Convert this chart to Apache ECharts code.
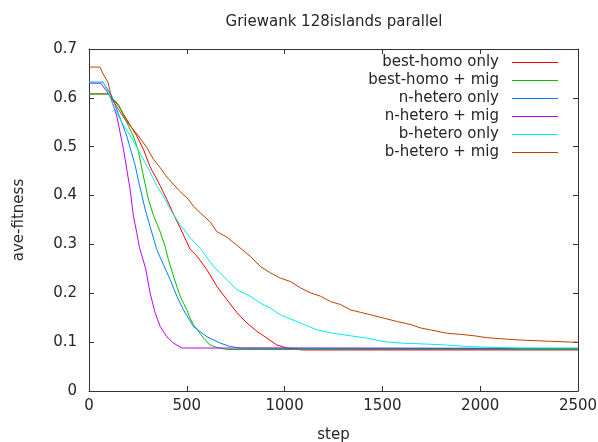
<!DOCTYPE html>
<html lang="en">
<head>
    <meta charset="UTF-8">
    <title>Griewank 128islands parallel</title>
    <script src="https://cdn.jsdelivr.net/npm/echarts@6/dist/echarts.min.js"></script>
    <style>
        html, body { margin: 0; padding: 0; background: #fff; }
        #chartmain { width: 598px; height: 442px; }
    </style>
</head>
<body>
<div id="chartmain"></div>
<script>
    // [step, ave-fitness]
    var bestHomoOnly = [[0,0.608],[97,0.608],[150,0.584],[244,0.522],[278,0.495],[312,0.459],[338,0.440],[364,0.420],
        [398,0.392],[432,0.362],[466,0.334],[500,0.305],[517,0.290],[552,0.276],[603,0.248],[654,0.214],[705,0.187],
        [757,0.160],[808,0.139],[859,0.122],[910,0.108],[961,0.094],[1012,0.088],[1090,0.084],[2500,0.084]];
    var bestHomoMig = [[0,0.608],[97,0.608],[150,0.587],[201,0.543],[227,0.522],[253,0.490],[278,0.440],
        [304,0.392],[329,0.360],[360,0.330],[389,0.296],[406,0.269],[432,0.235],[449,0.214],[466,0.194],[483,0.180],
        [500,0.166],[517,0.149],[534,0.136],[560,0.122],[586,0.108],[620,0.094],[654,0.089],[680,0.087],[705,0.085],[2500,0.085]];
    var nHeteroOnly = [[0,0.632],[72,0.632],[116,0.604],[193,0.522],[210,0.498],[236,0.462],[253,0.430],[287,0.372],
        [312,0.337],[346,0.290],[361,0.276],[415,0.228],[449,0.194],[483,0.166],[534,0.132],[603,0.111],[671,0.098],
        [722,0.091],[773,0.088],[2500,0.087]];
    var nHeteroMig = [[0,0.630],[60,0.630],[108,0.604],[142,0.563],[176,0.495],[210,0.413],[227,0.358],[244,0.324],
        [258,0.294],[290,0.250],[312,0.201],[338,0.160],[364,0.132],[398,0.111],[432,0.098],[475,0.088],[2500,0.087]];
    var bHeteroOnly = [[0,0.632],[72,0.632],[99,0.611],[125,0.584],[167,0.550],[201,0.529],[236,0.505],[270,0.480],
        [304,0.455],[346,0.420],[380,0.399],[415,0.372],[466,0.340],[517,0.314],[568,0.292],[637,0.255],[705,0.228],
        [757,0.207],[824,0.194],[876,0.180],[927,0.170],[978,0.156],[1081,0.139],[1167,0.125],[1251,0.118],[1337,0.113],
        [1423,0.108],[1508,0.101],[1593,0.098],[1730,0.096],[1832,0.094],[1935,0.091],[2089,0.089],[2208,0.088],[2500,0.088]];
    var bHeteroMig = [[0,0.663],[56,0.663],[72,0.649],[97,0.632],[116,0.598],[150,0.577],[184,0.556],[253,0.522],
        [296,0.498],[330,0.474],[364,0.457],[398,0.438],[466,0.408],[509,0.392],[534,0.378],[568,0.365],[620,0.346],
        [654,0.326],[705,0.315],[757,0.298],[824,0.276],[876,0.255],[927,0.242],[978,0.231],[1030,0.224],[1081,0.211],
        [1132,0.201],[1184,0.194],[1235,0.183],[1286,0.177],[1337,0.166],[1388,0.161],[1440,0.156],[1508,0.149],
        [1577,0.142],[1645,0.136],[1696,0.129],[1747,0.125],[1832,0.118],[1901,0.116],[1969,0.113],[2038,0.109],
        [2140,0.106],[2217,0.104],[2345,0.102],[2473,0.100],[2500,0.100]];

    var names = ['best-homo only', 'best-homo + mig', 'n-hetero only', 'n-hetero + mig', 'b-hetero only', 'b-hetero + mig'];
    var colors = ['#ff0000', '#00c000', '#0080ff', '#c000ff', '#00eeee', '#c04000'];
    var allData = [bestHomoOnly, bestHomoMig, nHeteroOnly, nHeteroMig, bHeteroOnly, bHeteroMig];

    var font = 'DejaVu Sans';
    var txt = '#262626';

    var series = [];
    var legends = [];
    for (var i = 0; i < names.length; i++) {
        series.push({
            name: names[i], type: 'line', data: allData[i], showSymbol: false,
            color: colors[i], lineStyle: {width: 1, color: colors[i]}, animation: false
        });
        //一行一个图例，文字右对齐
        legends.push({
            data: [names[i]], right: 40, top: 55 + i * 18, padding: 0, align: 'right',
            icon: 'rect', itemWidth: 46, itemHeight: 1,
            textStyle: {fontFamily: font, fontSize: 15, color: txt, padding: [0, 8, 0, 0]}
        });
    }

    function ax(extra) {
        var base = {
            axisLine: {show: true, onZero: false, lineStyle: {color: '#333', width: 1}},
            axisTick: {show: true, inside: true, length: 5, lineStyle: {color: '#333'}},
            splitLine: {show: false},
            axisLabel: {fontFamily: font, fontSize: 15, color: txt}
        };
        for (var k in extra) base[k] = extra[k];
        return base;
    }

    var option = {
        backgroundColor: '#fff',
        animation: false,
        title: {
            text: 'Griewank 128islands parallel', left: 329, top: 10, textAlign: 'center',
            textStyle: {fontFamily: font, fontSize: 15, fontWeight: 'normal', color: txt}
        },
        legend: legends,
        grid: {left: 89, right: 20, top: 49, bottom: 51, outerBoundsMode: 'none', containLabel: false},
        xAxis: [
            ax({type: 'value', min: 0, max: 2500, interval: 500, position: 'bottom',
                name: 'step', nameLocation: 'middle', nameGap: 37,
                nameTextStyle: {fontFamily: font, fontSize: 15, color: txt},
                axisLabel: {fontFamily: font, fontSize: 15, color: txt, margin: 8,
                    formatter: function (v) { return String(v); }}}),
            ax({type: 'value', min: 0, max: 2500, interval: 500, position: 'top', axisLabel: {show: false}})
        ],
        yAxis: [
            ax({type: 'value', min: 0, max: 0.7, interval: 0.1, position: 'left',
                name: 'ave-fitness', nameLocation: 'middle', nameGap: 62,
                nameTextStyle: {fontFamily: font, fontSize: 15, color: txt},
                axisLabel: {fontFamily: font, fontSize: 15, color: txt, margin: 12}}),
            ax({type: 'value', min: 0, max: 0.7, interval: 0.1, position: 'right', axisLabel: {show: false}})
        ],
        series: series
    };

    var myChart = echarts.init(document.getElementById('chartmain'));
    myChart.setOption(option);
</script>
</body>
</html>
